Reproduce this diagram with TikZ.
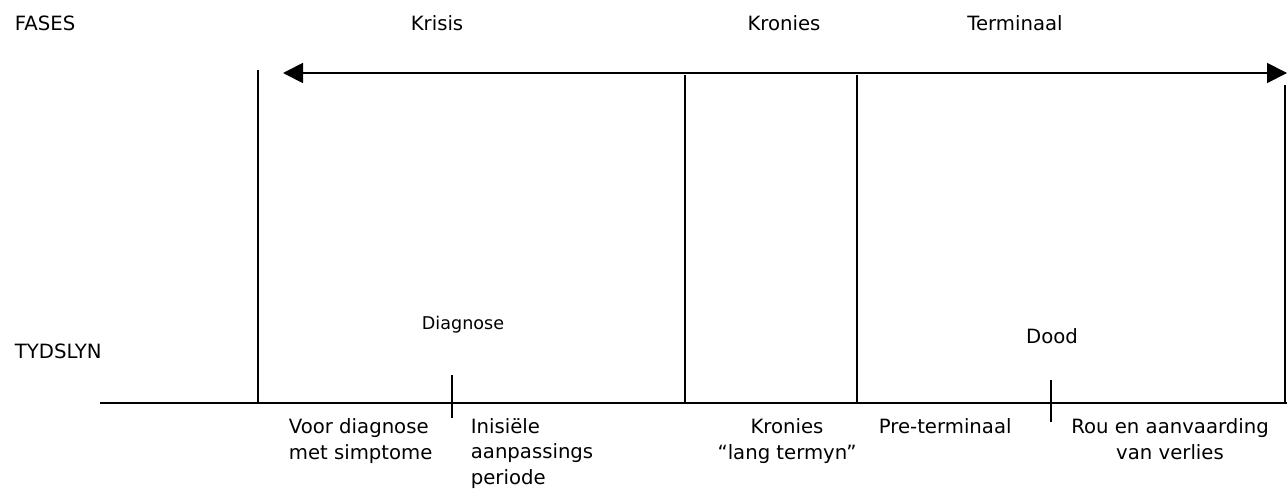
\documentclass[tikz,border=0pt]{standalone}
\usepackage{fontspec}
\setmainfont{DejaVu Sans}
\usetikzlibrary{arrows.meta, positioning}

\begin{document}
\begin{tikzpicture}[x=0.02cm, y=-0.02cm, >={Triangle[length=0.4cm,width=0.4cm]}, line width=1pt,
    lbl/.style={inner sep=0pt, anchor=base west, font=\fontsize{11.2}{14.5}\selectfont},
    mark lbl/.style={inner sep=0pt, anchor=base, font=\fontsize{10}{12}\selectfont}]
    \useasboundingbox (0,0) rectangle (1287,490);

    % phases on top
    \node (fases) [lbl] at (14,31) {FASES};
    \node (krisis) [lbl, anchor=base] at (437,31) {Krisis};
    \node (kronies) [lbl, anchor=base] at (784,31) {Kronies};
    \node (terminaal) [lbl, anchor=base] at (1015,31) {Terminaal};

    \coordinate (phaseL) at (283,73);
    \coordinate (phaseR) at (1287,73);
    \draw[<->] (phaseL) -- (phaseR);

    % timeline
    \node (tydslyn) [lbl] at (14,358) {TYDSLYN};
    \coordinate (lineL) at (100,403);
    \coordinate (lineR) at (1287,403);
    \draw (lineL) -- (lineR);

    \foreach \n/\x/\t in {start/258/70, chron/685/75, term/857/75, end/1285/85} {
        \coordinate (\n top) at (\x,\t);
        \coordinate (\n bot) at (\x,403);
        \draw (\n top) -- (\n bot);
    }

    % markers
    \node (diagnose) [mark lbl] at (463,329) {Diagnose};
    \node (dood) [mark lbl, font=\fontsize{11.2}{13}\selectfont] at (1052,343) {Dood};
    \coordinate (diagTop) at (452,375);
    \coordinate (diagBot) at (452,418);
    \draw (diagTop) -- (diagBot);
    \coordinate (doodTop) at (1051,380);
    \coordinate (doodBot) at (1051,422);
    \draw (doodTop) -- (doodBot);

    % periods (base anchor sits on the last line)
    \node (voor) [lbl, align=left] at (288,459) {Voor diagnose\\met simptome};
    \node (inisiele) [lbl, align=left] at (470,484) {Inisiële\\aanpassings\\periode};
    \node (langtermyn) [lbl, anchor=base, align=center] at (787,459) {Kronies\\“lang termyn”};
    \node (preterm) [lbl] at (878,433) {Pre-terminaal};
    \node (rou) [lbl, anchor=base, align=center] at (1170,459) {Rou en aanvaarding\\van verlies};
\end{tikzpicture}
\end{document}
